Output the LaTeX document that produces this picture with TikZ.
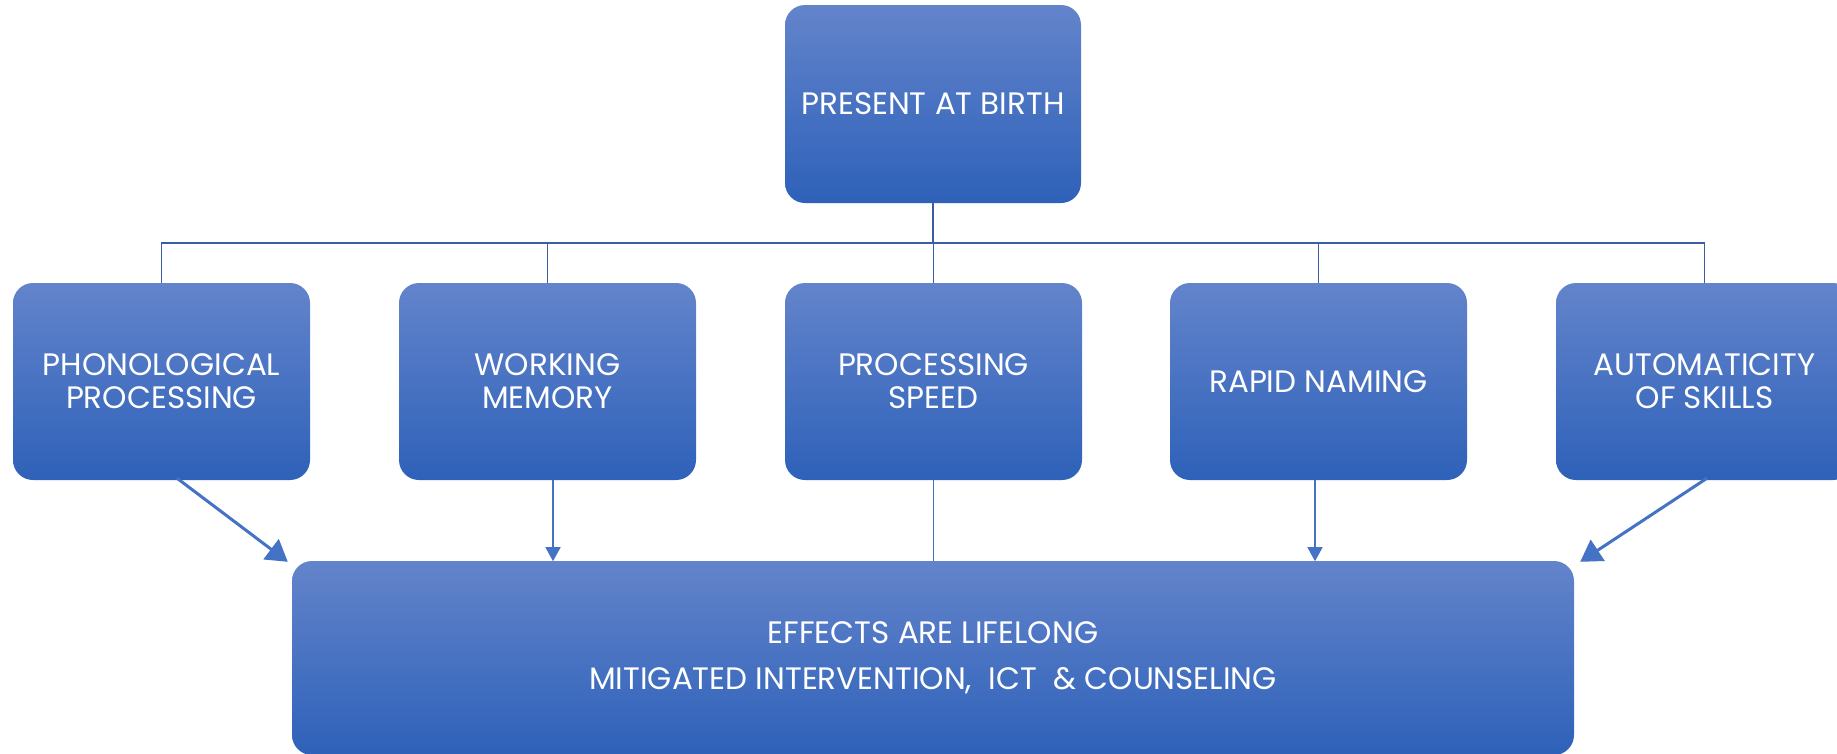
\documentclass[tikz,border=0pt]{standalone}
\usepackage{fontspec}
\setmainfont{Poppins}
\usetikzlibrary{arrows.meta,calc}
\definecolor{boxtop}{HTML}{6384CB}
\definecolor{boxmid}{HTML}{4271C6}
\definecolor{boxbot}{HTML}{2E61B9}
\definecolor{treeline}{HTML}{3A5EA6}
\definecolor{arrowblue}{HTML}{4472C4}
\begin{document}
\begin{tikzpicture}[x=1pt,y=-1pt,
  box/.style={rounded corners=20pt, top color=boxtop, middle color=boxmid, bottom color=boxbot,
    text=white, align=center, inner sep=0pt, minimum width=297pt, minimum height=197pt,
    font=\fontsize{31}{33}\selectfont},
  tree/.style={draw=treeline, line width=1.5pt},
  thinarrow/.style={draw=arrowblue, line width=1.5pt, -{Triangle[length=14pt,width=15pt]}},
  thickarrow/.style={draw=arrowblue, line width=3pt, -{Triangle[length=21pt,width=25pt]}},
  plainline/.style={draw=arrowblue!80!treeline, line width=1.5pt}]
\useasboundingbox (0,0) rectangle (1837,753);

\node[box, minimum width=296pt, minimum height=198pt] (top) at (933,104) {PRESENT AT BIRTH};

\node[box] (p1) at (161.5,381.5) {PHONOLOGICAL\\PROCESSING};
\node[box] (p2) at (547.5,381.5) {WORKING\\MEMORY};
\node[box] (p3) at (933.5,381.5) {PROCESSING\\SPEED};
\node[box] (p4) at (1318.5,381.5) {RAPID NAMING};
\node[box] (p5) at (1704.5,381.5) {AUTOMATICITY\\OF SKILLS};

\node[box, minimum width=1282pt, minimum height=194pt, font=\fontsize{31}{46}\selectfont] (eff) at (933,658)
  {EFFECTS ARE LIFELONG\\MITIGATED INTERVENTION,\ \ ICT\ \ \& COUNSELING};

\coordinate (bus) at (933,243);
\draw[tree] (top.south) -- (bus);
\draw[tree] (p1.north) -- (p1.north |- bus) -- (p5.north |- bus) -- (p5.north);
\draw[tree] (p2.north) -- (p2.north |- bus);
\draw[tree] (p3.north) -- (p3.north |- bus);
\draw[tree] (p4.north) -- (p4.north |- bus);

\draw[thickarrow] ($(p1.south)+(15.5,-2)$) -- ($(eff.north west)+(-4,1)$);
\draw[thinarrow] ($(p2.south)+(5.5,0)$) -- ($(p2.south)+(5.5,81)$);
\draw[plainline] (p3.south) -- ($(p3.south)+(0,81)$);
\draw[thinarrow] ($(p4.south)+(-3.5,0)$) -- ($(p4.south)+(-3.5,81)$);
\draw[thickarrow] ($(p5.south)+(2.5,-2)$) -- ($(eff.north east)+(6,1)$);
\end{tikzpicture}
\end{document}
